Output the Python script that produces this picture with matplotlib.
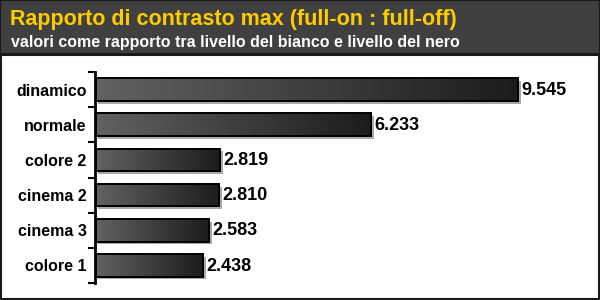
import numpy as np
import matplotlib.pyplot as plt
from matplotlib.patches import Rectangle
from matplotlib.colors import LinearSegmentedColormap

# data, top to bottom
categories = ["dinamico", "normale", "colore 2", "cinema 2", "cinema 3", "colore 1"]
values = [9.545, 6.233, 2.819, 2.810, 2.583, 2.438]
value_labels = ["9.545", "6.233", "2.819", "2.810", "2.583", "2.438"]

title = "Rapporto di contrasto max (full-on : full-off)"
subtitle = "valori come rapporto tra livello del bianco e livello del nero"

plt.rcParams['font.family'] = ['Liberation Sans', 'DejaVu Sans']

fig = plt.figure(figsize=(6, 3), dpi=100)
fig.patch.set_facecolor('white')

# header band
fig.patches.append(Rectangle((0, 1 - 54/300), 1, 54/300, transform=fig.transFigure,
                             facecolor='#404040', edgecolor='#1a1a1a', linewidth=1.5, zorder=0))
# outer frame of plot area
fig.patches.append(Rectangle((0.002, 0.004), 0.996, 1 - 55/300 - 0.004, transform=fig.transFigure,
                             facecolor='white', edgecolor='#1a1a1a', linewidth=1.5, zorder=0))

fig.text(10/600, 1 - 19/300, title, color='#ffcc00', fontsize=15.5, fontweight='bold',
         va='center', ha='left')
fig.text(11/600, 1 - 42/300, subtitle, color='white', fontsize=11.5, fontweight='bold',
         va='center', ha='left')

ax = fig.add_axes([95/600, 17/300, (570-95)/600, (283-72)/300])
ax.set_zorder(2)
ax.patch.set_alpha(0)

cmap = LinearSegmentedColormap.from_list('g', ['#626262', '#1c1c1c'])
grad = np.linspace(0, 1, 256).reshape(1, -1)
bar_h = 0.64
for i, v in enumerate(values):
    y0 = i - bar_h/2
    # drop shadow
    ax.add_patch(Rectangle((0.06, y0 + 0.08), v, bar_h, facecolor='#a8a8a8',
                           edgecolor='none', zorder=1))
    ax.imshow(grad, cmap=cmap, extent=(0.03, v, y0 + bar_h, y0), aspect='auto', zorder=2)
    ax.add_patch(Rectangle((0.03, y0), v - 0.03, bar_h, facecolor='none', edgecolor='black',
                           linewidth=1.4, zorder=3))
    ax.text(v + 0.07, i + 0.02, value_labels[i], va='center', ha='left', fontsize=13,
            fontweight='bold', color='black')

ax.set_ylim(len(categories) - 0.5, -0.5)
ax.set_xlim(0, (570-95)/44.3)

for s in ['top', 'right', 'bottom']:
    ax.spines[s].set_visible(False)
ax.spines['left'].set_linewidth(2)
ax.set_xticks([])
ax.set_yticks(range(len(categories)))
ax.set_yticklabels(categories, fontsize=11.5, fontweight='bold')
ax.tick_params(axis='y', which='major', length=0, pad=6)
ax.set_yticks(np.arange(-0.5, len(categories)), minor=True)
ax.tick_params(axis='y', which='minor', length=5, width=1.5)

fig.savefig('out.png', dpi=100)
